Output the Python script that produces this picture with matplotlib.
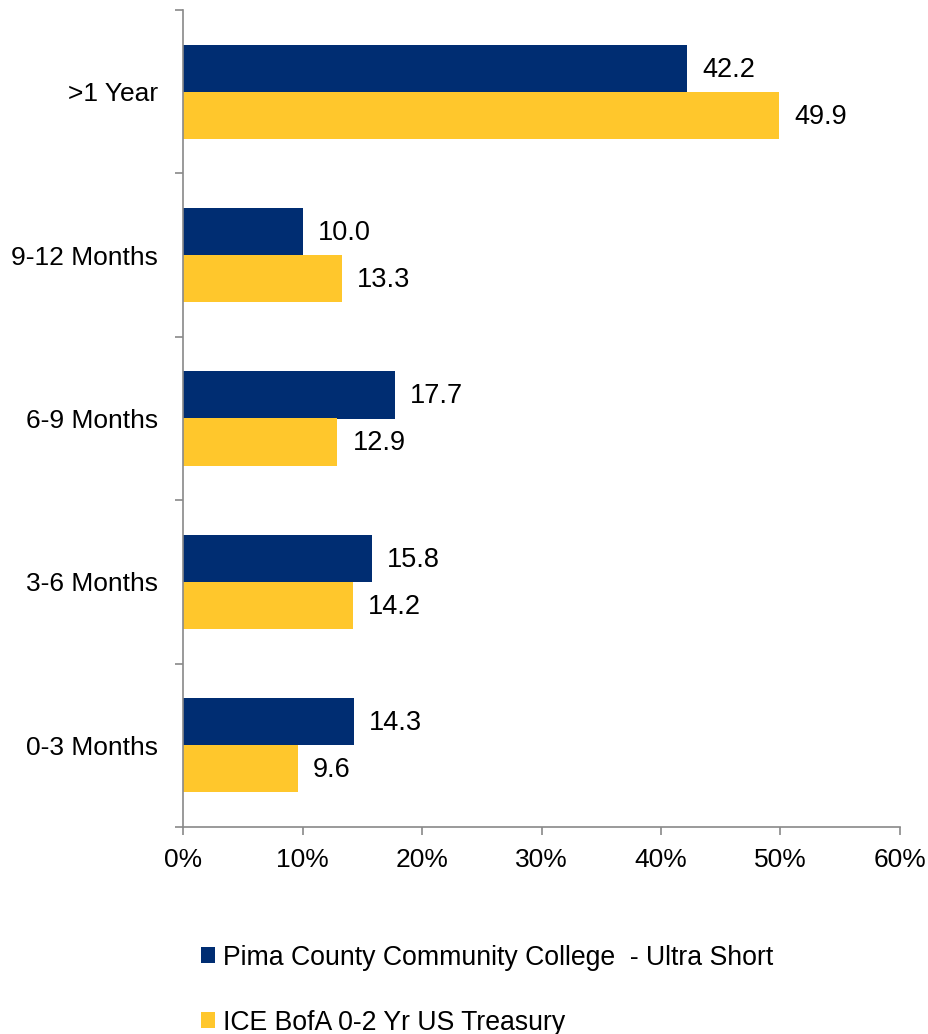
import matplotlib
matplotlib.use("Agg")
import matplotlib.pyplot as plt
import numpy as np

plt.rcParams['font.family'] = ['Liberation Sans', 'DejaVu Sans']

categories = ["0-3 Months", "3-6 Months", "6-9 Months", "9-12 Months", ">1 Year"]
pima_values = [14.3, 15.8, 17.7, 10.0, 42.2]
ice_values = [9.6, 14.2, 12.9, 13.3, 49.9]
series_names = ["Pima County Community College  - Ultra Short",
                "ICE BofA 0-2 Yr US Treasury"]
x_ticks = [0, 10, 20, 30, 40, 50, 60]
x_tick_labels = ["0%", "10%", "20%", "30%", "40%", "50%", "60%"]

navy = "#002D72"
gold = "#FFC72C"
axis_gray = "#898989"
fs_axis = 19
fs_label = 19.5
fs_legend = 19.2

fig = plt.figure(figsize=(9.29, 10.34), dpi=100)
ax = fig.add_axes([183 / 929, 1 - 827 / 1034, (900 - 183) / 929, (827 - 10) / 1034])

y = np.arange(len(categories))
h = 0.288
b1 = ax.barh(y + h / 2, pima_values, height=h, color=navy, label=series_names[0])
b2 = ax.barh(y - h / 2, ice_values, height=h, color=gold, label=series_names[1])

for bars, vals in ((b1, pima_values), (b2, ice_values)):
    for rect, v in zip(bars, vals):
        ax.annotate(f"{v:.1f}", xy=(v, rect.get_y() + rect.get_height() / 2),
                    xytext=(11, -1), textcoords="offset points",
                    ha="left", va="center", fontsize=fs_label, color="black")

ax.set_xlim(0, 60)
ax.set_ylim(-0.5, len(categories) - 0.5)

ax.set_xticks(x_ticks)
ax.set_xticklabels(x_tick_labels, fontsize=fs_axis)
ax.tick_params(axis="x", direction="out", length=6, width=1.2, color=axis_gray, pad=9)

# category boundaries carry the tick marks, centers carry the labels
ax.set_yticks(np.arange(-0.5, len(categories), 1.0))
ax.set_yticklabels([])
ax.tick_params(axis="y", which="major", direction="out", length=6, width=1.2, color=axis_gray)
ax.set_yticks(y, minor=True)
ax.set_yticklabels(categories, minor=True, fontsize=fs_axis)
ax.tick_params(axis="y", which="minor", length=0, pad=18)

for side in ("top", "right"):
    ax.spines[side].set_visible(False)
for side in ("left", "bottom"):
    ax.spines[side].set_color(axis_gray)
    ax.spines[side].set_linewidth(1.2)

fig.legend(handles=[b1, b2], labels=series_names, loc="upper left",
           bbox_to_anchor=(190 / 929, 1 - 934 / 1034), frameon=False,
           fontsize=fs_legend, handlelength=0.55, handleheight=0.55,
           handletextpad=0.3, labelspacing=1.46, borderaxespad=0)

fig.savefig("out.png", dpi=100)
